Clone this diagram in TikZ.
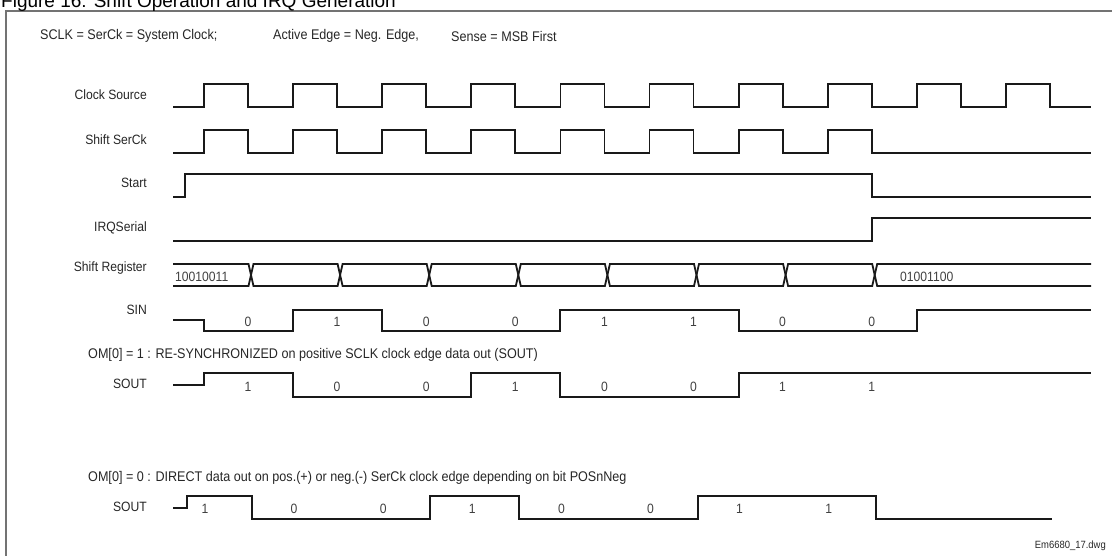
\documentclass[tikz,border=0pt]{standalone}
\usepackage{fontspec}
\setmainfont{Liberation Sans}
\newfontfamily\narrowfont{Liberation Sans}[FakeStretch=0.9]
\usepackage{tikz}
\newcommand{\sml}{\narrowfont\fontsize{13.5}{15}\selectfont}
\newcommand{\hdr}{\narrowfont\fontsize{14}{16}\selectfont}

\begin{document}
\begin{tikzpicture}[x=1pt, y=-1pt,
    sig/.style={line width=1.8pt, black!90},
    lbl/.style={font=\sml, anchor=east, inner sep=0pt, text=black!85},
    txt/.style={font=\hdr, anchor=west, inner sep=0pt, text=black!85},
    bit/.style={font=\sml, inner sep=0pt, text=black!75}]
    \clip (0,0) rectangle (1112,556);
    % frame and title
    \draw[black!55, line width=1.3pt] (1130,11) -- (6,11) -- (6,580);
    \node[anchor=base west, inner sep=0pt, font=\fontsize{19}{21}\selectfont] (title) at (1,7.5) {Figure 16: Shift Operation and IRQ Generation};
    \node[txt] (sclk) at (40,36) {SCLK = SerCk = System Clock;};
    \node[txt] (edge) at (273,36) {Active Edge = Neg. Edge,};
    \node[txt] (sense) at (451,36) {Sense = MSB First};
    % signal names
    \foreach \n\y\t in {clk/95/Clock Source, serck/140/Shift SerCk, start/183/Start, irq/228/IRQSerial, shreg/268/Shift Register, sin/310/SIN, souta/384/SOUT, soutb/507/SOUT} {
      \node[lbl] (\n) at (147,\y) {\t};
    }
    \node[txt] (oma) at (88,355) {OM[0] = 1 : RE-SYNCHRONIZED on positive SCLK clock edge data out (SOUT)};
    \node[txt] (omb) at (88,478) {OM[0] = 0 : DIRECT data out on pos.(+) or neg.(-) SerCk clock edge depending on bit POSnNeg};
    \node[font=\narrowfont\fontsize{10.5}{12}\selectfont, anchor=east, inner sep=0pt, text=black!85] (dwg) at (1106,546) {Em6680\_17.dwg};
    % clock source
    \draw[sig] (173,107) \foreach \k in {0,...,9} {
      -- ({204+89.1*\k},107) -- ({204+89.1*\k},84) -- ({248+89.1*\k},84) -- ({248+89.1*\k},107)
    } -- (1091,107);
    % shift serck
    \draw[sig] (173,153) \foreach \k in {0,...,7} {
      -- ({204+89.1*\k},153) -- ({204+89.1*\k},130) -- ({248+89.1*\k},130) -- ({248+89.1*\k},153)
    } -- (1091,153);
    % start and irq
    \draw[sig] (173,197) -- (185,197) -- (185,174) -- (872,174) -- (872,197) -- (1091,197);
    \draw[sig] (173,241) -- (872,241) -- (872,218) -- (1091,218);
    % shift register
    \draw[sig] (173,264) -- (248.5,264) -- (251,275) -- (248.5,286) -- (173,286);
    \foreach \k in {0,...,6} {
      \draw[sig] ({251+89.1*\k},275) -- ({253.5+89.1*\k},264) -- ({248.5+89.1*(\k+1)},264) -- ({251+89.1*(\k+1)},275)
        -- ({248.5+89.1*(\k+1)},286) -- ({253.5+89.1*\k},286) -- cycle;
    }
    \draw[sig] (1091,264) -- (877.2,264) -- (874.7,275) -- (877.2,286) -- (1091,286);
    \node[txt, font=\sml, text=black!75] (olddata) at (175,277) {10010011};
    \node[txt, font=\sml, text=black!75] (newdata) at (900,277) {01001100};
    % sin
    \draw[sig] (173,320) -- (204,320) -- (204,331) -- (293,331) -- (293,310) -- (382,310) -- (382,331) -- (560,331)
      -- (560,310) -- (739,310) -- (739,331) -- (917,331) -- (917,310) -- (1091,310);
    \foreach \b [count=\k from 0] in {0,1,0,0,1,1,0,0} {
      \node[bit] (sin\k) at ({248+89.1*\k},322) {\b};
    }
    % sout, resynchronized
    \draw[sig] (173,385) -- (204,385) -- (204,373) -- (293,373) -- (293,397) -- (471,397) -- (471,373) -- (560,373)
      -- (560,397) -- (739,397) -- (739,373) -- (1091,373);
    \foreach \b [count=\k from 0] in {1,0,0,1,0,0,1,1} {
      \node[bit] (sa\k) at ({248+89.1*\k},387) {\b};
    }
    % sout, direct
    \draw[sig] (173,508) -- (187,508) -- (187,496) -- (252,496) -- (252,519) -- (430,519) -- (430,496) -- (519,496)
      -- (519,519) -- (698,519) -- (698,496) -- (876,496) -- (876,519) -- (1052,519);
    \foreach \b [count=\k from 0] in {1,0,0,1,0,0,1,1} {
      \node[bit] (sb\k) at ({205+89.1*\k},509) {\b};
    }
  \end{tikzpicture}
\end{document}
